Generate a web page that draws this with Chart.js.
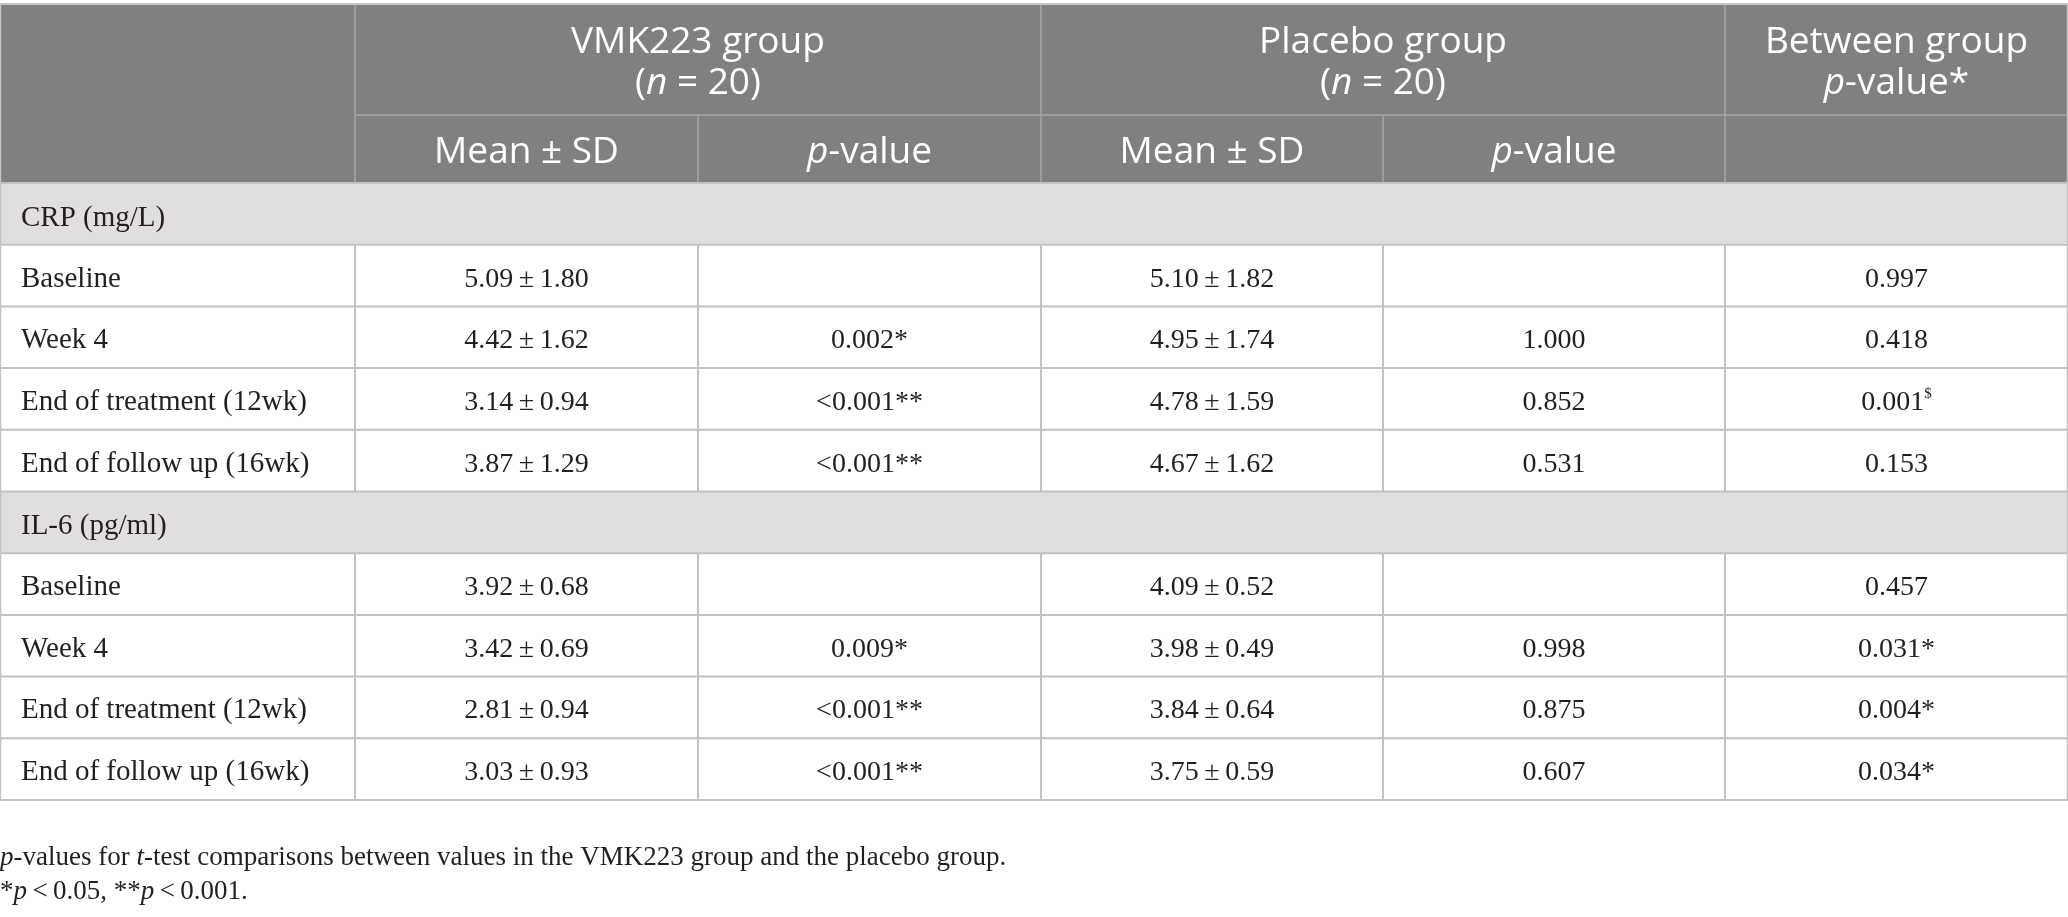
<!DOCTYPE html>
<html lang="en">
<head>
<meta charset="UTF-8">
<title>CRP and IL-6 by group</title>
<script src="https://cdn.jsdelivr.net/npm/chart.js"></script>
<style>
  html, body { margin: 0; padding: 0; background: #fff; }
  #wrap { width: 2068px; height: 917px; }
</style>
</head>
<body>
<div id="wrap"><canvas id="tableChart" width="2068" height="917"></canvas></div>
<script>
// table content
const timepoints = ["Baseline", "Week 4", "End of treatment (12wk)", "End of follow up (16wk)"];

const crpVmkMean = [5.09, 4.42, 3.14, 3.87];
const crpVmkSd   = [1.80, 1.62, 0.94, 1.29];
const crpVmkP    = ["", "0.002*", "<0.001**", "<0.001**"];
const crpPlaMean = [5.10, 4.95, 4.78, 4.67];
const crpPlaSd   = [1.82, 1.74, 1.59, 1.62];
const crpPlaP    = ["", "1.000", "0.852", "0.531"];
const crpBetween = ["0.997", "0.418", "0.001^$", "0.153"];

const il6VmkMean = [3.92, 3.42, 2.81, 3.03];
const il6VmkSd   = [0.68, 0.69, 0.94, 0.93];
const il6VmkP    = ["", "0.009*", "<0.001**", "<0.001**"];
const il6PlaMean = [4.09, 3.98, 3.84, 3.75];
const il6PlaSd   = [0.52, 0.49, 0.64, 0.59];
const il6PlaP    = ["", "0.998", "0.875", "0.607"];
const il6Between = ["0.457", "0.031*", "0.004*", "0.034*"];

const sectionLabels = ["CRP (mg/L)", "IL-6 (pg/ml)"];
const groupHeads = [["VMK223 group", "(_n_ = 20)"], ["Placebo group", "(_n_ = 20)"], ["Between group", "_p_-value*"]];
const subHeads = ["Mean ± SD", "_p_-value", "Mean ± SD", "_p_-value", ""];
const footnotes = [
  "_p_-values for _t_-test comparisons between values in the VMK223 group and the placebo group.",
  "*_p_\u2009<\u20090.05, **_p_\u2009<\u20090.001."
];

// layout (in scale units)
const colEdges = [0, 355, 698, 1041, 1383, 1725, 2068];
const headTop = 4, head1Bottom = 115, head2Bottom = 183, tableBottom = 800;
const serif = "'Liberation Serif', 'Times New Roman', serif";
const sans = "'Open Sans', 'Noto Sans', sans-serif";

const fmt = (m, s) => m.toFixed(2) + "\u2009±\u2009" + s.toFixed(2);
const buildRows = (vm, vs, vp, pm, ps, pp, bw) =>
  timepoints.map((t, i) => [t, fmt(vm[i], vs[i]), vp[i], fmt(pm[i], ps[i]), pp[i], bw[i]]);
const sections = [
  { label: sectionLabels[0], rows: buildRows(crpVmkMean, crpVmkSd, crpVmkP, crpPlaMean, crpPlaSd, crpPlaP, crpBetween) },
  { label: sectionLabels[1], rows: buildRows(il6VmkMean, il6VmkSd, il6VmkP, il6PlaMean, il6PlaSd, il6PlaP, il6Between) }
];

// "_x_" = italic, "^x" = superscript to end
function parseRuns(s) {
  const runs = [];
  let sup = "";
  const k = s.indexOf("^");
  if (k >= 0) { sup = s.slice(k + 1); s = s.slice(0, k); }
  s.split("_").forEach((t, i) => { if (t) runs.push({ t, italic: i % 2 === 1 }); });
  if (sup) runs.push({ t: sup, sup: true });
  return runs;
}

function drawRich(ctx, s, x, y, align, family, size, color) {
  const runs = parseRuns(s);
  const fontOf = r => (r.italic ? "italic " : "") + (r.sup ? Math.round(size * 0.55) : size) + "px " + family;
  let w = 0;
  runs.forEach(r => { ctx.font = fontOf(r); r.w = ctx.measureText(r.t).width; w += r.w; });
  let cx = align === "center" ? x - w / 2 : x;
  ctx.fillStyle = color;
  ctx.textAlign = "left";
  ctx.textBaseline = "alphabetic";
  runs.forEach(r => {
    ctx.font = fontOf(r);
    ctx.fillText(r.t, cx, r.sup ? y - size * 0.42 : y);
    cx += r.w;
  });
}

const tablePlugin = {
  id: "tableDraw",
  afterDraw(chart) {
    const ctx = chart.ctx;
    const X = v => chart.scales.x.getPixelForValue(v);
    const Y = v => chart.scales.y.getPixelForValue(v);
    const line = (x1, y1, x2, y2, color, lw) => {
      ctx.strokeStyle = color; ctx.lineWidth = lw;
      ctx.beginPath(); ctx.moveTo(X(x1), Y(y1)); ctx.lineTo(X(x2), Y(y2)); ctx.stroke();
    };
    const mid = (a, b) => (colEdges[a] + colEdges[b]) / 2;
    const right = colEdges[colEdges.length - 1];
    ctx.save();

    // header
    ctx.fillStyle = "#7f8180";
    ctx.fillRect(X(0), Y(headTop), X(right) - X(0), Y(head2Bottom) - Y(headTop));
    const hl = "#a4a6a5";
    line(colEdges[1], head1Bottom, right, head1Bottom, hl, 1.5);
    [1, 3, 5].forEach(c => line(colEdges[c], headTop, colEdges[c], head2Bottom, hl, 1.5));
    [2, 4].forEach(c => line(colEdges[c], head1Bottom, colEdges[c], head2Bottom, hl, 1.5));
    groupHeads.forEach((g, i) => {
      const cx = i < 2 ? mid(1 + 2 * i, 3 + 2 * i) : mid(5, 6);
      drawRich(ctx, g[0], X(cx), Y(53), "center", sans, 37, "#ffffff");
      drawRich(ctx, g[1], X(cx), Y(94), "center", sans, 37, "#ffffff");
    });
    subHeads.forEach((h, i) => {
      if (h) drawRich(ctx, h, X(mid(i + 1, i + 2)), Y(163), "center", sans, 37, "#ffffff");
    });

    // body
    const rowCount = sections.reduce((n, s) => n + 1 + s.rows.length, 0);
    const rowH = (tableBottom - head2Bottom) / rowCount;
    const grid = "#c2c2c2";
    const ink = "#231f20";
    let top = head2Bottom;
    sections.forEach(sec => {
      ctx.fillStyle = "#e0dedf";
      ctx.fillRect(X(0), Y(top), X(right) - X(0), Y(top + rowH) - Y(top));
      drawRich(ctx, sec.label, X(21), Y(top + rowH / 2 + 12), "left", serif, 29, ink);
      line(0, top, right, top, grid, 2);
      top += rowH;
      sec.rows.forEach(row => {
        line(0, top, right, top, grid, 2);
        colEdges.slice(1, -1).forEach(e => line(e, top, e, top + rowH, grid, 2));
        row.forEach((cell, c) => {
          if (!cell) return;
          if (c === 0) drawRich(ctx, cell, X(21), Y(top + rowH / 2 + 11), "left", serif, 29, ink);
          else drawRich(ctx, cell, X(mid(c, c + 1)), Y(top + rowH / 2 + 11), "center", serif, 28, ink);
        });
        top += rowH;
      });
    });
    line(0, tableBottom, right, tableBottom, grid, 2);
    line(0, headTop, right, headTop, "#c6c6c6", 2);
    line(0.5, headTop, 0.5, tableBottom, grid, 1.5);
    line(right - 0.5, headTop, right - 0.5, tableBottom, grid, 1.5);

    // footnotes
    footnotes.forEach((f, i) => drawRich(ctx, f, X(0), Y(865 + i * 34), "left", serif, 27, ink));
    ctx.restore();
  }
};

new Chart(document.getElementById("tableChart"), {
  type: "scatter",
  data: { datasets: [{ data: [] }] },
  options: {
    responsive: false,
    animation: false,
    devicePixelRatio: 1,
    layout: { padding: 0 },
    plugins: { legend: { display: false }, tooltip: { enabled: false } },
    scales: {
      x: { type: "linear", min: 0, max: 2068, display: false },
      y: { type: "linear", min: 0, max: 917, reverse: true, display: false }
    }
  },
  plugins: [tablePlugin]
});
</script>
</body>
</html>
